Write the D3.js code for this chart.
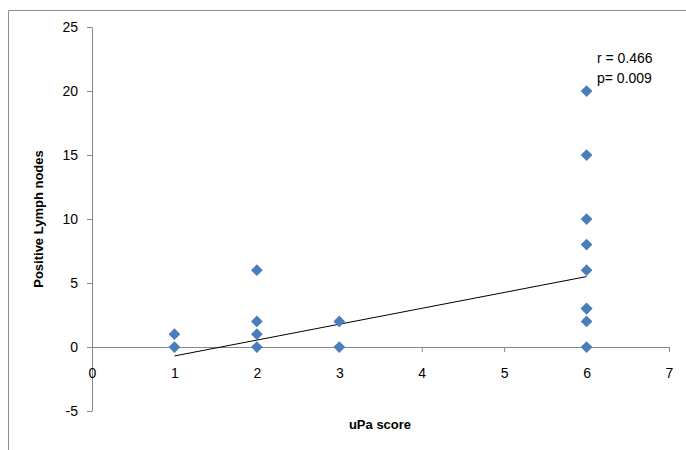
<!DOCTYPE html>
<html>
<head>
<meta charset="utf-8">
<script src="https://cdn.jsdelivr.net/npm/d3@7"></script>
<style>
  body { margin: 0; background: #fff; }
  text { font-family: "Liberation Sans", Arial, sans-serif; }
</style>
</head>
<body>
<div id="chart"></div>
<script>
// uPa score vs positive lymph nodes
const scoreX = [1, 1, 2, 2, 2, 2, 3, 3, 6, 6, 6, 6, 6, 6, 6, 6, 6];
const nodesY = [1, 0, 6, 2, 1, 0, 2, 0, 20, 15, 10, 8, 6, 3, 3, 2, 0];
const trendX = [1, 6];
const trendY = [-0.7, 5.5];
const xTicks = [0, 1, 2, 3, 4, 5, 6, 7];
const yTicks = [-5, 0, 5, 10, 15, 20, 25];
const statLabels = ["r = 0.466", "p= 0.009"];

const W = 686, H = 450;
const svg = d3.select("#chart").append("svg")
    .attr("width", W)
    .attr("height", H);

// outer frame
svg.append("path")
    .attr("d", "M8.5,450 V10.5 H690")
    .attr("fill", "none")
    .attr("stroke", "#8c8c8c")
    .attr("stroke-width", 1);

const x = d3.scaleLinear().domain([0, 7]).range([92, 669]);
const y = d3.scaleLinear().domain([-5, 25]).range([411, 27]);
const fmt = d => String(d);

// y axis
const yAxis = svg.append("g")
    .attr("transform", `translate(${x(0)},0)`)
    .call(d3.axisLeft(y).tickValues(yTicks).tickFormat(fmt).tickSize(5).tickPadding(9).tickSizeOuter(0));

// x axis at y = 0
const xAxis = svg.append("g")
    .attr("transform", `translate(0,${y(0)})`)
    .call(d3.axisBottom(x).tickValues(xTicks).tickFormat(fmt).tickSize(5).tickPadding(16).tickSizeOuter(0));

[xAxis, yAxis].forEach(g => {
  g.select(".domain").attr("stroke", "#868686");
  g.selectAll(".tick line").attr("stroke", "#868686");
  g.selectAll(".tick text")
      .attr("fill", "#000")
      .style("font-size", "14px")
      .style("font-family", "Liberation Sans Narrow, Liberation Sans, sans-serif");
});

// trend line
svg.append("line")
    .attr("x1", x(trendX[0])).attr("y1", y(trendY[0]))
    .attr("x2", x(trendX[1])).attr("y2", y(trendY[1]))
    .attr("stroke", "#000")
    .attr("stroke-width", 1);

// points
const pts = scoreX.map((v, i) => ({x: v, y: nodesY[i]}));
svg.selectAll(".pt")
  .data(pts)
  .enter()
  .append("path")
    .attr("class", "pt")
    .attr("d", d3.symbol().type(d3.symbolDiamond2).size(88))
    .attr("transform", d => `translate(${x(d.x)},${y(d.y)})`)
    .attr("fill", "#4a7ebb");

// stats
svg.selectAll(".stat")
  .data(statLabels)
  .enter()
  .append("text")
    .attr("x", 597)
    .attr("y", (d, i) => 63 + i * 20)
    .style("font-size", "14px")
    .style("font-family", "Liberation Sans Narrow, Liberation Sans, sans-serif")
    .text(d => d);

// axis titles
svg.append("text")
    .attr("x", 380)
    .attr("y", 429)
    .attr("text-anchor", "middle")
    .style("font-size", "13px")
    .style("font-weight", "bold")
    .text("uPa score");

svg.append("text")
    .attr("transform", "translate(43,219) rotate(-90)")
    .attr("text-anchor", "middle")
    .style("font-size", "13px")
    .style("font-weight", "bold")
    .text("Positive Lymph nodes");
</script>
</body>
</html>
